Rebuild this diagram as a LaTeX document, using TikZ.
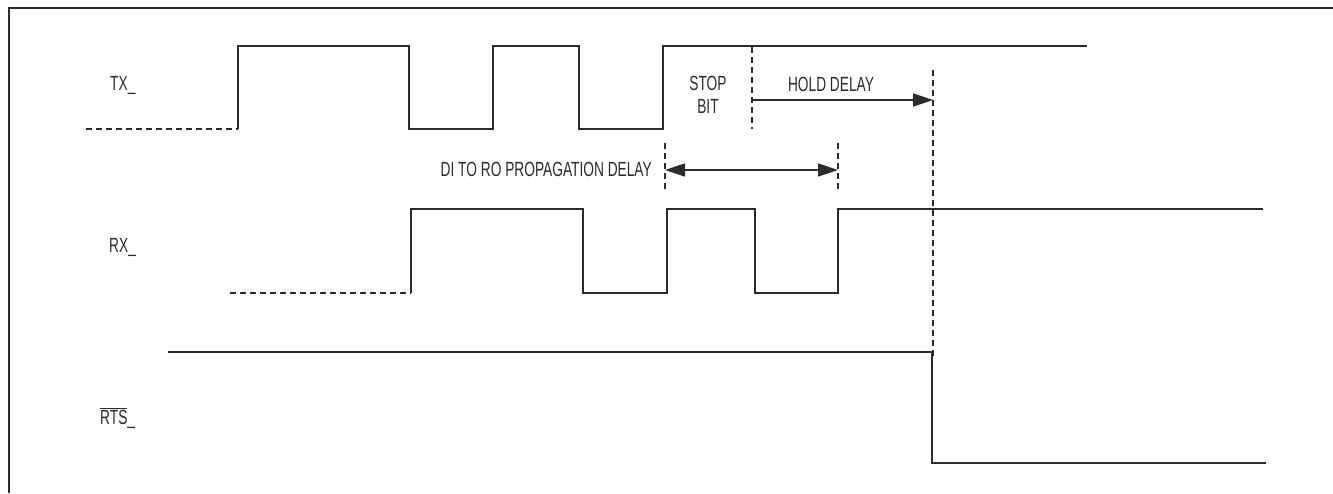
\documentclass[tikz,border=0pt]{standalone}
\usepackage{fontspec}
\setmainfont[FakeStretch=0.67]{Liberation Sans}
\usetikzlibrary{arrows.meta}
\definecolor{ink}{HTML}{2B2B2B}
\tikzset{
  wave/.style={draw=ink, line width=1.8pt},
  guide/.style={draw=ink, line width=1.2pt, dash pattern=on 6pt off 4pt},
  lbl/.style={text=ink, font=\fontsize{20.5}{22}\selectfont, inner sep=0pt},
  dim/.style={draw=ink, line width=1.6pt},
  tip/.style={Triangle[length=20pt,width=13pt]}
}
\begin{document}
\begin{tikzpicture}[x=1pt,y=-1pt]
\useasboundingbox (0,0) rectangle (1333,493);
% frame
\draw[ink, line width=2pt] (9,493) -- (9,8) -- (1333,8);
% labels
\node[lbl, anchor=west] (tx) at (110,85) {TX\_};
\node[lbl, anchor=west] (rx) at (109,247) {RX\_};
\node[lbl, anchor=west] (rts) at (100,418) {$\overline{\mbox{RTS}}$\_};
% TX waveform
\draw[guide] (86,129) -- (238,129);
\draw[wave] (238,129) -- (238,46) -- (409,46) -- (409,129) -- (493,129) -- (493,46)
  -- (579,46) -- (579,129) -- (663,129) -- (663,46) -- (1087,46);
% RX waveform
\draw[guide] (230,293) -- (411,293);
\draw[wave] (411,293) -- (411,209) -- (583,209) -- (583,293) -- (667,293) -- (667,209)
  -- (755,209) -- (755,293) -- (838,293) -- (838,209) -- (1263,209);
% RTS waveform
\draw[wave] (168,352) -- (932,352) -- (932,463) -- (1266,463);
% guides
\coordinate (sbT) at (752,47);
\coordinate (sbB) at (752,129);
\coordinate (hdT) at (933,70);
\coordinate (hdB) at (933,360);
\coordinate (p1T) at (665,143);
\coordinate (p1B) at (665,192);
\coordinate (p2T) at (838,143);
\coordinate (p2B) at (838,192);
\draw[guide] (sbT) -- (sbB);
\draw[guide] (hdT) -- (hdB);
\draw[guide] (p1T) -- (p1B);
\draw[guide] (p2T) -- (p2B);
% hold delay arrow
\coordinate (hdS) at (752,100);
\coordinate (hdE) at (933,100);
\draw[dim, -{Triangle[length=20pt,width=13pt]}] (hdS) -- (hdE);
\node[lbl] (hold) at (831,84) {HOLD DELAY};
\node[lbl, align=center] (stop) at (708,95) {STOP\\[1pt]BIT};
% propagation arrow
\coordinate (pS) at (665,170);
\coordinate (pE) at (838,170);
\draw[dim, {Triangle[length=20pt,width=13pt]}-{Triangle[length=20pt,width=13pt]}] (pS) -- (pE);
\node[lbl, anchor=east] (prop) at (652,169.5) {DI TO RO PROPAGATION DELAY};
\end{tikzpicture}
\end{document}
